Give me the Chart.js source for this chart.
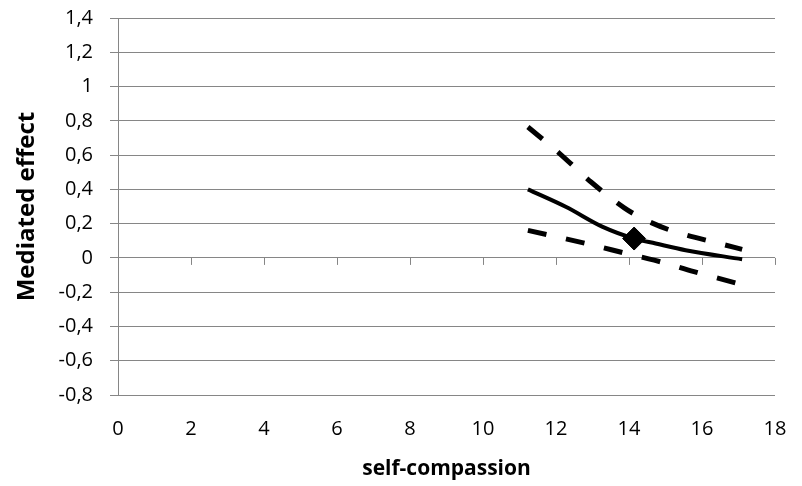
<!DOCTYPE html>
<html>
<head>
<meta charset="utf-8">
<script src="https://cdn.jsdelivr.net/npm/chart.js@4/dist/chart.umd.min.js"></script>
<style>
  html, body { margin: 0; padding: 0; background: #ffffff; }
  #wrap { width: 802px; height: 486px; position: relative; }
</style>
</head>
<body>
<div id="wrap"><canvas id="c" width="802" height="486"></canvas></div>
<script>
// ---- data ----
const estX   = [11.23, 12.28, 13.28, 14.14, 14.73, 15.55, 17.10];
const estY   = [0.400, 0.297, 0.181, 0.113, 0.084, 0.045, -0.008];
const upperX = [11.23, 12.10, 12.96, 13.87, 14.37, 15.14, 16.55, 17.10];
const upperY = [0.764, 0.609, 0.443, 0.292, 0.230, 0.161, 0.080, 0.050];
const lowerX = [11.23, 12.91, 14.00, 14.69, 15.78, 16.92, 17.10];
const lowerY = [0.161, 0.080, 0.022, -0.013, -0.080, -0.146, -0.156];
const markX  = [14.14];
const markY  = [0.113];
const xTickLabels = ['0','2','4','6','8','10','12','14','16','18'];
const yTickLabels = ['-0,8','-0,6','-0,4','-0,2','0','0,2','0,4','0,6','0,8','1','1,2','1,4'];
const xTitle = 'self-compassion';
const yTitle = 'Mediated effect';

const pts = (xs, ys) => xs.map((x, i) => ({ x: x, y: ys[i] }));
const GRID = '#868686';

const zeroTicks = {
  id: 'zeroTicks',
  beforeDatasetsDraw(chart) {
    const xs = chart.scales.x, ys = chart.scales.y;
    const ctx = chart.ctx;
    const y0 = ys.getPixelForValue(0);
    ctx.save();
    ctx.strokeStyle = GRID;
    ctx.lineWidth = 1;
    ctx.beginPath();
    xs.ticks.forEach(t => {
      const px = Math.round(xs.getPixelForValue(t.value)) + 0.5;
      ctx.moveTo(px, y0);
      ctx.lineTo(px, y0 + 7);
    });
    ctx.stroke();
    ctx.restore();
  }
};

new Chart(document.getElementById('c'), {
  type: 'scatter',
  data: {
    datasets: [
      { data: pts(upperX, upperY), showLine: true, borderColor: '#000', borderWidth: 5,
        borderDash: [19, 20], borderCapStyle: 'butt', pointRadius: 0, tension: 0.3, cubicInterpolationMode: 'monotone' },
      { data: pts(lowerX, lowerY), showLine: true, borderColor: '#000', borderWidth: 5,
        borderDash: [19, 20], borderCapStyle: 'butt', pointRadius: 0, tension: 0.3, cubicInterpolationMode: 'monotone' },
      { data: pts(estX, estY), showLine: true, borderColor: '#000', borderWidth: 4,
        pointRadius: 0, tension: 0.3, cubicInterpolationMode: 'monotone' },
      { data: pts(markX, markY), showLine: false, pointStyle: 'rectRot', pointRadius: 11.5,
        backgroundColor: '#000', borderColor: '#000', borderWidth: 1 }
    ]
  },
  options: {
    responsive: false,
    animation: false,
    layout: { padding: { left: 0, right: 27, top: 18, bottom: 0 } },
    plugins: { legend: { display: false }, tooltip: { enabled: false } },
    scales: {
      x: {
        type: 'linear', position: 'bottom', min: 0, max: 18,
        afterFit(s) { s.height = 91; s.paddingLeft = 0; s.paddingRight = 0; },
        grid: { display: false, drawTicks: false },
        border: { display: false },
        ticks: {
          stepSize: 2, padding: 22, color: '#000',
          font: { family: 'Open Sans', size: 20 },
          callback: (v, i) => xTickLabels[i]
        },
        title: { display: true, text: xTitle, color: '#000',
          font: { family: 'Open Sans', size: 21, weight: 'bold', lineHeight: 1.2 },
          padding: { top: 0, bottom: 4 } }
      },
      y: {
        type: 'linear', position: 'left', min: -0.8, max: 1.4,
        afterFit(s) { s.width = 118; s.paddingTop = 0; s.paddingBottom = 0; },
        grid: { color: GRID, lineWidth: 1, drawTicks: true, tickLength: 8 },
        border: { display: true, color: GRID, width: 1 },
        ticks: {
          stepSize: 0.2, padding: 17, color: '#000',
          font: { family: 'Open Sans', size: 20 },
          callback: (v, i) => yTickLabels[i]
        },
        title: { display: true, text: yTitle, color: '#000',
          font: { family: 'Open Sans', size: 24, weight: 'bold', lineHeight: 1.2 },
          padding: { top: 13, bottom: 0 } }
      }
    }
  },
  plugins: [zeroTicks]
});
</script>
</body>
</html>
